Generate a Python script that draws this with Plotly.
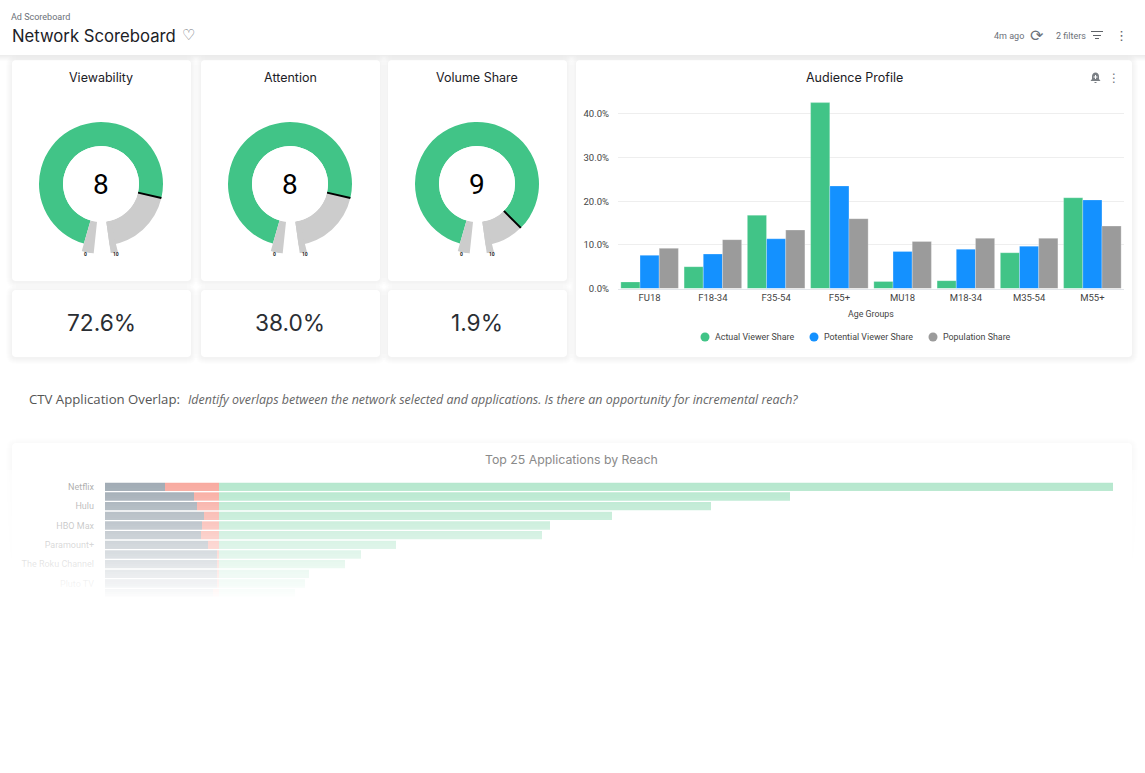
import plotly.graph_objects as go

W = 1145
H = 773

# gauges
gauge_titles = ["Viewability", "Attention", "Volume Share"]
gauge_scores = [7.95, 7.95, 8.9]
gauge_labels = ["8", "8", "9"]
gauge_pcts = ["72.6%", "38.0%", "1.9%"]
gauge_centers = [101, 290, 477]

# audience profile
age_groups = ["FU18", "F18-34", "F35-54", "F55+", "MU18", "M18-34", "M35-54", "M55+"]
actual_share = [1.5, 5.0, 16.8, 42.6, 1.6, 1.8, 8.2, 20.8]
potential_share = [7.6, 7.9, 11.4, 23.5, 8.5, 9.0, 9.7, 20.3]
population_share = [9.2, 11.2, 13.4, 16.0, 10.8, 11.5, 11.5, 14.3]
share_ticks = [0, 10, 20, 30, 40]
share_tick_text = ["0.0%", "10.0%", "20.0%", "30.0%", "40.0%"]
legend_names = ["Actual Viewer Share", "Potential Viewer Share", "Population Share"]

# top applications, only every other name can be read
app_ranks = list(range(1, 13))
app_tick_ranks = [1, 3, 5, 7, 9, 11]
app_tick_names = ["Netflix", "Hulu", "HBO Max", "Paramount+", "The Roku Channel", "Pluto TV"]
app_grey = [60, 89, 92, 99, 97, 96, 103, 112, 112, 112, 112, 108]
app_red = [54, 25, 22, 15, 17, 18, 11, 2, 2, 2, 2, 6]
app_green = [894, 571, 492, 393, 331, 323, 177, 142, 126, 90, 86, 76]

GREEN = "#41C487"
BLUE = "#1491FF"
GREY = "#9B9B9B"


def px(x):
    return x / W


def py(y):
    return 1 - y / H


def rounded(x0, y0, x1, y1, r):
    # rounded rectangle as a path, paper coordinates
    X0, X1 = px(x0), px(x1)
    Y0, Y1 = py(y0), py(y1)
    rx, ry = r / W, r / H
    return (f"M {X0 + rx} {Y0} L {X1 - rx} {Y0} Q {X1} {Y0} {X1} {Y0 - ry} "
            f"L {X1} {Y1 + ry} Q {X1} {Y1} {X1 - rx} {Y1} "
            f"L {X0 + rx} {Y1} Q {X0} {Y1} {X0} {Y1 + ry} "
            f"L {X0} {Y0 - ry} Q {X0} {Y0} {X0 + rx} {Y0} Z")


shapes = []


def add_card(x0, y0, x1, y1, alpha=0.007):
    for i in range(6, 0, -1):
        shapes.append(dict(type="path", xref="paper", yref="paper", layer="below",
                           path=rounded(x0 - i, y0 - i + 1, x1 + i, y1 + i + 1, 4 + i),
                           fillcolor=f"rgba(0,0,0,{alpha})", line_width=0))
    shapes.append(dict(type="path", xref="paper", yref="paper", layer="below",
                       path=rounded(x0, y0, x1, y1, 4),
                       fillcolor="white", line_width=0))


def rect(x0, y0, x1, y1, color, layer="below"):
    shapes.append(dict(type="rect", xref="paper", yref="paper", layer=layer,
                       x0=px(x0), x1=px(x1), y0=py(y0), y1=py(y1),
                       fillcolor=color, line_width=0))


for cx in gauge_centers:
    add_card(cx - 89, 60, cx + 90, 281)
    add_card(cx - 89, 290, cx + 90, 357)
add_card(576, 60, 1132, 357)
add_card(12, 443, 1132, 720, alpha=0.004)

# header bar and its shadow
for i in range(6):
    rect(0, 55 + i, W, 56 + i, f"rgba(0,0,0,{0.07 - i * 0.012:.3f})")
rect(0, 0, W, 55, "white")

# filter icon
rect(1091, 31, 1103, 32, "#5f6368")
rect(1093, 35, 1101, 36, "#5f6368")
rect(1095, 38, 1099, 39, "#5f6368")

# bell icon
shapes.append(dict(type="path", xref="paper", yref="paper", layer="below", line_width=0,
                   fillcolor="#7a7f84",
                   path=(f"M {px(1090.5)} {py(81)} L {px(1092)} {py(79)} L {px(1092)} {py(76)} "
                         f"Q {px(1092.5)} {py(72.5)} {px(1095.5)} {py(72.5)} Q {px(1098.5)} {py(72.5)} {px(1099)} {py(76)} "
                         f"L {px(1099)} {py(79)} L {px(1100.5)} {py(81)} Z")))
rect(1094.5, 82, 1096.5, 83, "#7a7f84")
rect(1093.5, 76.5, 1097.5, 77.5, "white", layer="above")
rect(1095, 75, 1096, 79, "white", layer="above")

# legend dots for the audience chart
legend_dots = [705, 814, 933]
legend_colors = [GREEN, BLUE, GREY]
for dot_x, col in zip(legend_dots, legend_colors):
    shapes.append(dict(type="circle", xref="paper", yref="paper", layer="below", line_width=0,
                       fillcolor=col, x0=px(dot_x - 4.5), x1=px(dot_x + 4.5),
                       y0=py(337 + 4.5), y1=py(337 - 4.5)))

# white fade over the lower chart
fade_top = 470
fade_bottom = 600
for y in range(fade_top, fade_bottom, 2):
    visible = max(0, 0.38 - (y - 487) * 0.0034)
    rect(0, y, W, y + 2, f"rgba(255,255,255,{1 - min(visible, 1):.3f})", layer="above")
rect(0, fade_bottom, W, H, "white", layer="above")

fig = go.Figure()

# gauges
def val_angle(v):
    return 196 + v * 33.6


polar_layouts = {}
for i, score in enumerate(gauge_scores):
    name = "polar" if i == 0 else f"polar{i + 1}"
    a0 = val_angle(0)
    a1 = val_angle(score)
    a2 = val_angle(10)
    fig.add_trace(go.Barpolar(r=[0.75, 0.75, 1, 1],
                              theta=[(a0 + a1) / 2, (a1 + a2) / 2, a0 - 5, a2 - 3],
                              width=[a1 - a0, a2 - a1, 10, 6],
                              marker=dict(color=[GREEN, "#CCCCCC", "#CCCCCC", "#CCCCCC"], line_width=0),
                              subplot=name, showlegend=False, hoverinfo="skip"))
    fig.add_trace(go.Scatterpolar(r=[0, 0.75], theta=[a1, a1], mode="lines",
                                  line=dict(color="black", width=2),
                                  subplot=name, showlegend=False, hoverinfo="skip"))
    cx = gauge_centers[i]
    polar_layouts[name] = dict(
        domain=dict(x=[px(cx - 70), px(cx + 70)], y=[py(254), py(114)]),
        hole=38 / 70,
        bgcolor="rgba(0,0,0,0)",
        radialaxis=dict(visible=False, range=[0, 1]),
        angularaxis=dict(visible=False, direction="clockwise", rotation=90),
    )

# audience bars
for ser, col, grp in [(actual_share, GREEN, "1"), (potential_share, BLUE, "2"), (population_share, GREY, "3")]:
    fig.add_trace(go.Bar(x=age_groups, y=ser, marker=dict(color=col, line=dict(color="rgba(255,255,255,0.5)", width=0.5)),
                         offsetgroup=grp, alignmentgroup="audience", showlegend=False,
                         xaxis="x", yaxis="y"))

# top applications, stacked by hand because barmode is shared with the chart above
red_base = app_grey
green_base = [g + r for g, r in zip(app_grey, app_red)]
for vals, base, col in [(app_grey, [0] * len(app_grey), "#122D44"),
                        (app_red, red_base, "#ED2A10"),
                        (app_green, green_base, "#47C383")]:
    fig.add_trace(go.Bar(y=app_ranks, x=vals, base=base, orientation="h",
                         marker=dict(color=col, line_width=0),
                         offsetgroup="reach", alignmentgroup="reach", showlegend=False,
                         width=0.86, xaxis="x2", yaxis="y2"))

texts = []


def text(x, y, s, size, color, font="Inter", anchor="center"):
    texts.append(dict(xref="paper", yref="paper", x=px(x), y=py(y), text=s, showarrow=False,
                      xanchor=anchor, yanchor="middle", align=anchor,
                      font=dict(family=font, size=size, color=color)))


text(9, 17, "Ad Scoreboard", 9, "#6b7078", "Roboto", "left")
text(10, 36, "Network Scoreboard", 16.7, "#1c2126", "Inter", "left")
text(188, 35, "♡", 15, "#6b7078", "DejaVu Sans")
text(1009, 36, "4m ago", 9, "#6b7078", "Roboto")
text(1037, 36, "⟳", 16, "#6b7078", "DejaVu Sans")
text(1071, 36, "2 filters", 9, "#6b7078", "Roboto")
text(1121, 36, "⋮", 13, "#5f6368", "DejaVu Sans")
text(1114, 78, "⋮", 12, "#6f7479", "DejaVu Sans")
for i, cx in enumerate(gauge_centers):
    text(cx, 77, gauge_titles[i], 12.5, "#1c2126")
    text(cx, 184, gauge_labels[i], 28, "black", "Roboto")
    text(cx - 16, 254, "<b>0</b>", 5, "#222", "Roboto")
    text(cx + 15, 254, "<b>10</b>", 5, "#222", "Roboto")
    text(cx, 322.5, gauge_pcts[i], 22.7, "#2a2e33", "Inter")
text(854, 77, "Audience Profile", 12.5, "#1c2126")
text(871, 314, "Age Groups", 8.8, "#444", "Roboto")
for dot_x, nm in zip(legend_dots, legend_names):
    text(dot_x + 8, 336.5, nm, 8.9, "#444", "Roboto", "left")
text(27, 399, "CTV Application Overlap:", 13.2, "#555", "Open Sans", "left")
text(186, 399, "<i>Identify overlaps between the network selected and applications. Is there an opportunity for incremental reach?</i>",
     12.45, "#666", "Open Sans", "left")
text(571, 459, "Top 25 Applications by Reach", 12.3, "#8a8a8a", "Inter")

fig.update_layout(
    width=W, height=H,
    margin=dict(l=0, r=0, t=0, b=0, autoexpand=False),
    paper_bgcolor="white",
    plot_bgcolor="rgba(0,0,0,0)",
    barmode="group",
    bargap=0.09,
    bargroupgap=0,
    showlegend=False,
    shapes=shapes,
    annotations=texts,
    font=dict(family="Roboto"),
    xaxis=dict(domain=[px(618), px(1124)], anchor="y", showgrid=False, showline=True,
               linecolor="#e3e6ea", ticks="", tickfont=dict(size=9.5, color="#444")),
    yaxis=dict(domain=[py(288.5), py(100)], range=[0, 43.2], anchor="x", tickvals=share_ticks,
               ticktext=share_tick_text, gridcolor="#eeeeee", zeroline=False,
               tickfont=dict(size=9.5, color="#444"), ticklabelstandoff=8),
    xaxis2=dict(domain=[px(105), px(1120)], anchor="y2", range=[0, 1015], visible=False),
    yaxis2=dict(domain=[py(598), py(482)], anchor="x2", range=[12.5, 0.5], tickvals=app_tick_ranks,
                ticktext=app_tick_names, showgrid=False, zeroline=False, showline=False, ticks="",
                tickfont=dict(size=9, color="#2b2b2b"), ticklabelstandoff=10),
    **polar_layouts,
)

fig.write_html("out.html", config=dict(displayModeBar=False),
               post_script="document.body.style.margin='0';")
